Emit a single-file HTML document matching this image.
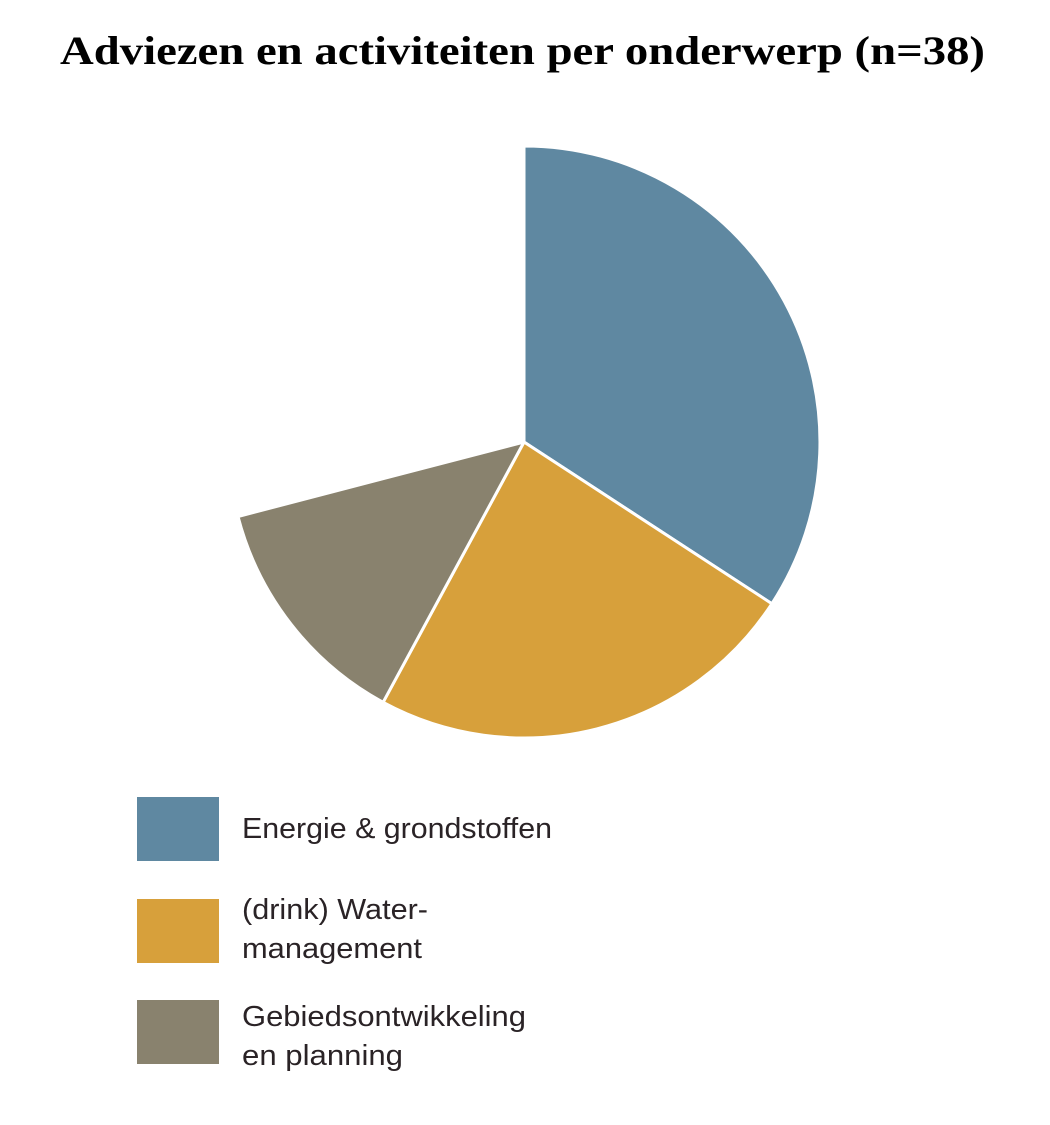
<!DOCTYPE html>
<html><head><meta charset="utf-8"><style>
html,body{margin:0;padding:0;background:#fff;width:1050px;height:1125px;overflow:hidden}
</style></head><body>
<svg width="1050" height="1125" viewBox="0 0 1050 1125" xmlns="http://www.w3.org/2000/svg">
<text x="60" y="64" textLength="925" lengthAdjust="spacingAndGlyphs" font-family="Liberation Serif, serif" font-weight="bold" font-size="40" fill="#000">Adviezen en activiteiten per onderwerp (n=38)</text>
<g stroke="#fff" stroke-width="3" stroke-linejoin="round">
<path d="M524,442 L524,146 A296,296 0 0 1 771.9,603.7 Z" fill="#5f88a1"/>
<path d="M524,442 L771.9,603.7 A296,296 0 0 1 383.1,702.3 Z" fill="#d7a03b"/>
<path d="M524,442 L383.1,702.3 A296,296 0 0 1 238,516.5 Z" fill="#89826e"/>
</g>
<rect x="137" y="797" width="82" height="64" fill="#5f88a1"/>
<rect x="137" y="899" width="82" height="64" fill="#d7a03b"/>
<rect x="137" y="1000" width="82" height="64" fill="#89826e"/>
<g font-family="Liberation Sans, sans-serif" font-size="29" fill="#2a2326" lengthAdjust="spacingAndGlyphs">
<text x="242" y="838" textLength="310" lengthAdjust="spacingAndGlyphs">Energie &amp; grondstoffen</text>
<text x="242" y="919" textLength="186" lengthAdjust="spacingAndGlyphs">(drink) Water-</text>
<text x="242" y="958" textLength="180" lengthAdjust="spacingAndGlyphs">management</text>
<text x="242" y="1026" textLength="284" lengthAdjust="spacingAndGlyphs">Gebiedsontwikkeling</text>
<text x="242" y="1065" textLength="161" lengthAdjust="spacingAndGlyphs">en planning</text>
</g>
</svg>
</body></html>
